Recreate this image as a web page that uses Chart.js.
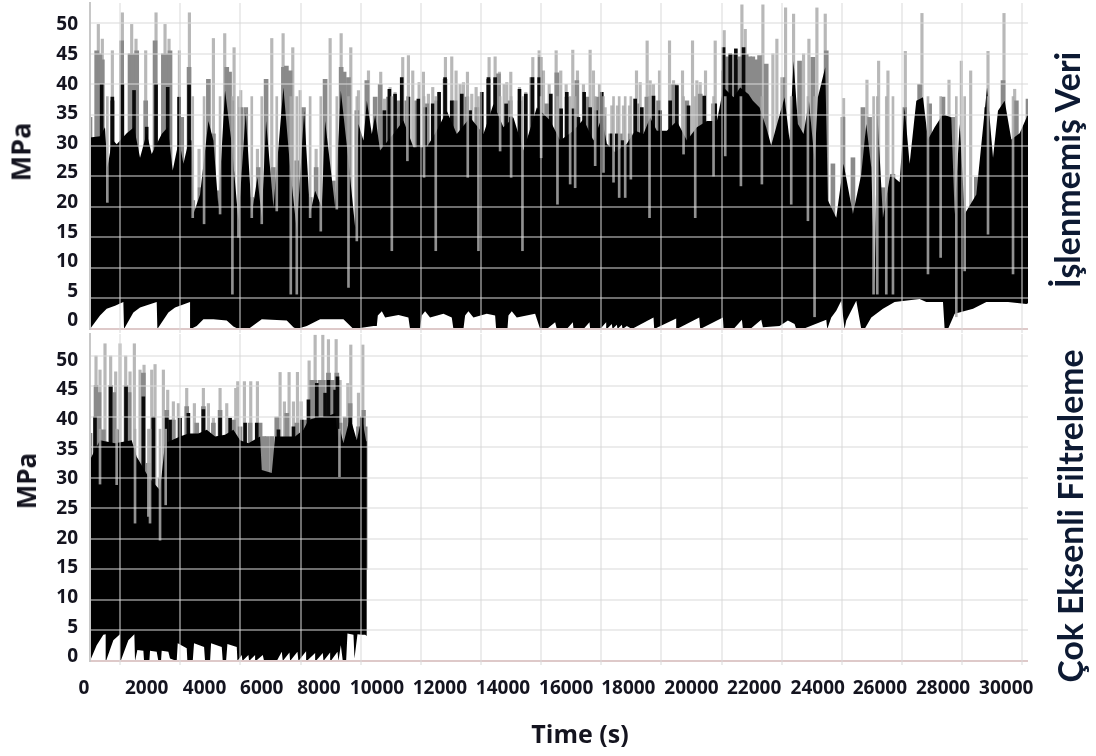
<!DOCTYPE html>
<html lang="tr"><head><meta charset="utf-8">
<script src="https://cdn.jsdelivr.net/npm/chart.js@4"></script>
<style>
html,body{margin:0;padding:0;background:#fff;width:1096px;height:756px;overflow:hidden}
canvas{position:absolute;left:0;filter:blur(.55px)}
.t{position:absolute;white-space:nowrap;font-family:"Open Sans",sans-serif;font-weight:700;color:#14141f;line-height:1}
.r{transform:translate(-50%,-50%) rotate(-90deg)}
.c{transform:translate(-50%,-50%)}
</style></head><body>
<canvas id="upper" style="top:0"></canvas>
<canvas id="lower" style="top:330px"></canvas>
<div class="t r" style="left:20px;top:152px;font-size:27px">MPa</div>
<div class="t r" style="left:26px;top:481px;font-size:26px">MPa</div>
<div class="t c" style="left:580px;top:733px;font-size:25px">Time (s)</div>
<div class="t r" style="left:1067px;top:170px;font-size:34px;font-family:Lato,sans-serif;color:#0d1a33">İşlenmemiş Veri</div>
<div class="t r" style="left:1071px;top:516px;font-size:33.7px;font-family:Lato,sans-serif;color:#0d1a33">Çok Eksenli Filtreleme</div>
<script>
const xTickLabels=[0,2000,4000,6000,8000,10000,12000,14000,16000,18000,20000,22000,24000,26000,28000,30000];
const yTickLabels=[0,5,10,15,20,25,30,35,40,45,50];

// Upper panel: raw data (İşlenmemiş Veri)
const upperSolidT=[0,333,499,577,743,887,1220,1464,1664,1885,2052,2384,2584,2750,2961,3105,3294,3382,3438,3660,3937,4103,4270,4491,4713,4935,5179,5379,5567,5711,5855,6099,6431,6654,6876,7120,7320,7486,7707,7818,8151,8340,8595,8817,8927,9094,9205,9371,9482,9645,10089,10421,10754,11198,11530,11863,12196,12639,13083,13416,13748,14081,14414,14857,15301,15634,16076,16408,16741,17018,17185,17462,17850,18127,18404,18626,18848,19181,19514,19846,20179,20512,20845,21066,21399,21620,21899,22042,22264,22485,22652,22874,23095,23262,23395,23539,23727,23905,24093,24204,24448,24537,24814,25058,25369,25646,25812,25979,26090,26178,26367,26611,26922,27088,27254,27476,27698,27864,28086,28363,28640,28751,28918,29084,29472,29828,30027,30192,30414,30636,30913,31190];
const upperSolidV=[31.3,31.5,33,26.4,31,30.2,32,33,28,32,28.6,31.9,33,25.9,31,27,31,30.8,18.8,22,34,30.8,19.9,39,30.2,17.7,35.4,18.8,24.8,18.2,34,19.9,39.5,26.4,16,35.7,18.8,22.6,19.9,34,19.9,39,27.5,16.6,33.5,30.8,37.3,31.9,35,29.2,31.9,34.1,29.7,29.7,32.4,35.7,31.9,34.6,31.9,36.8,33,34.6,29.2,36.2,34.1,30.8,32.4,34.3,30.8,34.6,30.3,28.9,30.3,32.4,31.9,34.6,32.4,32.4,34,30.8,33,34,34,39.5,37.9,39.5,38.4,37.3,36.2,33,30,34,37.9,30.8,43.8,33.5,31.9,37.3,27.5,37.9,42.8,21,18.2,27,18.8,25.3,33.5,26.4,7.4,35.7,18.2,25.3,24,36.2,27,37.3,37.9,31,33,35.1,34.6,18.8,33.5,18.8,22,39.5,28,35.7,37.3,31,32,35.1];
const upperDarkT=[388,743,1076,1464,1885,2196,2584,2961,3294,9789,9955,10144,10366,10588,10920,11142,11397,11608,11807,12029,12362,12639,13027,13249,13471,13837,13992,14281,14491,14713,14935,15323,15665,15854,16076,16242,16430,16630,16830,17018,17351,17517,17706,18127,18349,18737,18959,19292,19514,19902,20423,20789,21066,21288,21476,21732];
const upperDarkV=[40,37.9,40,39,33,40,39.5,37.9,40,35.7,39.2,38.4,41.1,37.9,37.6,36.2,36.8,38.7,41.1,37.3,38.4,35.7,38.7,41.1,41.1,36.8,34.6,39.2,38.4,41.1,41.1,38.4,36,38.7,36,34.6,38.7,36.2,35.7,38.7,31.9,31.9,30.8,37.6,36.2,38.1,35.7,37.3,39.8,36.5,38.1,36.8,46,45,45.8,46];
const upperHazeT=[0,222,330,410,743,1053,1331,1430,1553,1852,2163,2440,2540,2661,3050,3294,3416,3660,3937,4103,4270,4547,4640,4713,5013,5179,5379,5600,5855,6099,6432,6530,6654,6876,7098,7320,7519,7818,8096,8351,8450,8595,8872,9205,9482,9648,9925,10258,10532,10865,11197,11530,11807,12140,12528,12861,13249,13581,13970,14302,14690,14968,15190,15522,15855,16188,16520,16853,17075,17319,17630,17962,18184,18516,18905,19404,19847,20291,20734,21067,21170,21280,21400,21510,21620,21820,21930,22040,22150,22264,22485,23040,23594,24038,24482,24703,25036,25369,25701,25923,26367,26700,27088,27587,27919,28363,28696,29028,29472,29805,30359,30803,31190];
const upperHazeV=[34.6,45.5,45,44,37.3,47.1,45,45,45.5,37.3,47.1,45,45,45.5,34.6,42.8,21,23.1,40.8,31.9,22.6,42.8,42,37.3,36.2,36.2,21.5,26.4,40.8,26.4,42.8,43,42.2,27.5,36.2,21.5,26.4,40.8,24.2,42.8,42,41.1,35.7,40.6,37.9,40,37.9,37.3,37.3,37.3,36.8,37.3,40.8,37.3,37.9,36.2,40.8,41.7,37.3,37.3,41.1,44.4,36.8,41.9,37.9,40.6,37.9,37.9,35.1,31.9,31.9,31.9,36.8,37.9,37.3,40,37.3,38.4,36.8,42.2,44.5,44,44.9,44,44.5,44.9,44.5,44.5,44,44.7,43.3,41.1,43.8,44.4,45.5,27,34.6,28,36.2,34.6,23.1,25.3,36.2,40,36.8,37.9,34.6,19.9,24.8,36.2,40.6,37.3,37.6];
const upperFloorT=[0,333,555,832,1109,1131,1442,1664,2218,2240,2606,2828,3327,3349,3549,3771,4103,4547,4769,4935,5268,5711,6543,6765,6876,7209,7652,8428,8761,9426,9537,9570,9704,9814,10258,10587,10643,10975,11031,11142,11308,11752,12029,12084,12417,12473,12583,12750,13193,13471,13504,13881,13914,14025,14191,14801,14968,15190,15467,15522,15855,16055,16077,16410,16609,16631,16964,17164,17186,17352,17374,17518,17541,17685,17707,17851,18018,18738,18760,19492,19514,20258,20291,21045,21067,21400,21677,21710,21955,22319,22375,22929,23206,23428,23484,23705,24482,24515,24648,24814,24980,25091,25147,25480,25646,25757,25979,26367,26755,27587,27808,28363,28418,28530,28751,29362,29805,30525,31136,31190];
const upperFloorV=[0,2.2,3.3,3.8,4.4,0,2.7,3.5,4.4,0,2.7,3.5,4.4,0,.5,1.6,1.6,1.4,.4,0,0,1.6,1.4,.3,0,.5,1.6,1.6,0,.5,.5,2.2,2.9,1.9,2.3,1.9,0,0,2.2,2.9,1.9,2.5,1.9,0,0,2.2,2.9,1.9,2.5,2.2,0,0,2.2,2.9,1.9,2.5,0,0,1.1,0,0,1.1,0,0,1.1,0,0,1.1,0,.8,0,.7,0,.7,0,.5,0,1.9,0,1.7,0,1.9,0,1.9,0,0,1.5,0,0,1.5,.3,.5,1.4,.8,0,0,1.5,0,1.9,3,4.6,0,1.4,4.6,0,0,1.9,3.3,4.4,4.9,4.4,4.4,0,0,2.5,3.3,4.4,4.4,4.1,4.2];
const upperSpikeT=[277,410,743,1076,1386,1530,1852,2196,2495,2628,2972,3305,3626,3937,4103,4480,4791,5013,5567,5855,6044,6421,6743,6987,7519,7796,7985,8351,8672,8927,9260,9667,9789,9978,10144,10399,10588,10732,10943,11087,11253,11397,11608,11819,12029,12173,12307,12418,12551,12695,12839,13027,13271,13471,13615,13770,13859,13992,14281,14491,14724,14935,15079,15268,15500,15654,15832,16053,16209,16408,16630,16741,16941,17129,17351,17539,17739,17939,18172,18294,18526,18626,18736,18937,19270,19403,19514,19702,20035,20179,20290,20467,20789,21088,21677,21788,22375,22707,22840,23129,23395,23727,23905,24171,24448,25058,25835,26223,26533,27110,27664,28563,28973,29284,29860,30392,30747];
const upperSpikeV=[49.8,47.4,45.5,51.7,49.8,47.4,45.5,51.7,49.8,47.4,45.5,51.7,29.4,40.8,47.5,48.3,46,39,29.4,40.8,47.5,48.3,46,39,29.4,40.8,47.5,48.3,46,39,42.2,42,37.6,39.5,38.7,44.4,44.7,42.2,40.3,42,38.4,39.5,38.7,44.4,44.5,42.2,40,40.3,42,38.4,39.5,38.7,44.4,44.5,42,40,40.3,42,39.5,38.7,44.4,45.5,42.2,40,45.5,42.2,40,45.6,42.2,40,45.6,42.2,40,36.2,36.5,36.5,36.5,36.5,42.2,40.3,47.1,40.6,40,42.2,47.1,40.6,40,42.2,47.1,40.6,40.3,42.2,47.1,48.8,53,49,53,45,47.4,52.5,51.5,45,47.4,52.5,51.5,37.7,40.7,43.8,42.2,45.4,51.6,40.7,43.8,42.2,45.4,51.6,39.2];
const upperDipT=[577,3416,3793,4325,4735,4935,5379,5711,6210,6676,6876,7320,7674,8207,8595,8872,10036,10554,11108,11497,12561,12916,13637,14003,14380,15001,15544,15966,16132,16798,17075,17408,17596,17796,17984,18605,19737,20125,20734,21123,21644,22341,23317,23872,24093,26056,26178,26478,26700,27864,28285,28806,29084,29860,30692];
const upperDipV=[20.7,18.2,17.2,18.8,5.7,15,18.2,17.2,19.3,5.7,5.7,18.2,16,19.6,6.8,14.4,12.8,27.5,24.8,12.8,24.8,12.8,29.1,24.8,12.8,28,20.4,23.7,23.1,26.7,25.6,24,21.5,21.5,24.5,18.2,28.6,18.2,25,28.3,23.4,23.7,20.4,17.7,2,5.7,5.7,5.7,5.7,9,11.7,2,9.5,15.5,9];

// Lower panel: filtered data (Çok Eksenli Filtreleme)
const lowerSolidT=[0,333,499,832,1386,1553,1941,2329,2495,2717,2994,3271,3604,3881,4159,4491,4768,4990,5267,5656,5711,6044,6155,6487,6820,7097,7264,7596,7818,8151,8262,8317,8428,8650,8872,9039,9183,9205];
const lowerSolidV=[33,36.2,36,35.7,36.2,33.5,30.2,28,35.7,36.2,36.8,37.3,37.3,37.9,36.8,37.1,37.9,36.2,35.7,36.8,31.3,30.8,36.8,36.8,36.8,37.9,39.5,40,40,40.6,35.7,37.9,35.7,40,36.2,40,36,37];
const lowerDarkT=[166,687,1198,1775,2107,2551,2661,2994,3271,3770,4325,4658,5157,5545,6266,6765,7042,7264,7541,7818,7929,8151,8229,8650,9039];
const lowerDarkV=[40,45,45,43.3,40,40,39.5,39.8,40.6,41.2,40,39.8,39,39,37.9,38.4,39.5,42.8,45.5,43.9,46,44.4,46.6,40,40];
const lowerHazeT=[0,200,300,444,687,790,887,1198,1300,1442,1775,1941,2107,2329,2551,2772,3216,3549,3771,4103,4325,4769,4991,5323,5656,5767,5890,6044,6210,6543,6876,7153,7375,7480,7652,7760,7929,8060,8207,8317,8484,8650,8927,9094,9150];
const lowerHazeV=[37.3,45.2,44,37.9,45.2,44,37.9,45.2,44,34.6,47.2,32.4,40,30,41.1,39.5,41.7,39,41.7,39,41.1,39.5,38.4,39,39,36.8,36.8,36.8,40,40.6,39,39.5,46,46,46,46,47.2,46,47.2,39,40,42.2,38.4,41.1,38.4];
const lowerFloorT=[0,222,444,521,532,776,998,1020,1275,1475,1497,1575,1775,1797,1974,1996,2218,2273,2362,2384,2606,2661,2883,2917,3216,3238,3416,3460,3793,3826,3993,4026,4381,4414,4525,4569,4880,4902,5046,5068,5268,5290,5490,5512,5745,5789,6210,6377,6410,6632,6654,6898,6931,7186,7209,7486,7508,7741,7763,7985,8007,8229,8262,8340,8406,8517,8561,8761,8794,8894,9039,9150,9205];
const lowerFloorV=[0,2.6,4.3,4.4,0,3.4,4.4,0,3.4,4.4,0,1.8,1.7,0,0,1.7,1.5,0,0,1.7,1.5,.4,0,2.9,2.1,0,0,2.9,2.3,0,0,2.9,2.3,0,0,2.8,2.3,0,1,0,1,0,1,0,1,0,0,1.5,0,1.4,0,1.5,0,1.6,0,1.3,0,1.3,0,1.4,0,1.5,0,2.6,0,0,4.5,4.3,.4,4.4,4.3,4.3,4.1];
const lowerSpikeT=[200,333,499,687,854,998,1187,1331,1475,1664,1797,2052,2163,2440,2584,2772,2939,3216,3471,3770,3937,4103,4325,4547,4846,4913,5134,5345,5567,5800,6022,6321,6465,6620,6765,6898,7020,7286,7486,7741,7929,8185,8317,8572,8672,8927,9072];
const lowerSpikeV=[50,47.7,52,50,47.4,52,50,47.4,52,47.7,48.5,47.7,48.6,47.7,44.4,42.5,42.2,44.7,42.2,44.7,42.2,39.8,44.7,42.2,44.7,45.8,45.8,45.8,45.8,36.7,36.7,47.3,42.5,47.3,42.5,47.3,42.5,49.2,53.4,53.4,52.7,52.7,46,45.5,51.8,43.9,51.8];
const lowerDipT=[333,887,1497,1941,1996,2329,2517,8295];
const lowerDipV=[29,28.9,22.6,23.7,22.6,19.8,25.6,30.2];

const zeroT=[0,31190], zeroV=[0,0];
const spikeFloor=15, dipCeiling=38;

const xy=(ts,vs)=>ts.map((t,i)=>({x:t,y:vs[i]}));
const bars=(ts,vs,a)=>ts.map((t,i)=>({x:t,y:[a,vs[i]]}));
const X_MAX=31190, TICK={family:'"Open Sans",sans-serif',size:19,weight:'700'};
const GRID='rgba(218,218,218,.5)';

function datasets(p){
 const line=(d,o,extra)=>Object.assign({type:'line',data:d,order:o,borderWidth:0,pointRadius:0,tension:0},extra||{});
 const bar=(label,d,o,c,w)=>({label,type:'bar',data:d,order:o,backgroundColor:c,barThickness:w,grouped:false,borderWidth:0});
 return [
  line(xy(p.solidT,p.solidV),3,{label:'solid',backgroundColor:'#000',fill:{target:1}}),
  line(xy(p.floorT,p.floorV),3,{label:'floor'}),
  bar('dark',bars(p.darkT,p.darkV,spikeFloor),4,'#0a0a0a',3),
  bar('haze',bars(p.hazeT,p.hazeV,spikeFloor),5,'#8a8a8a',4),
  bar('spikes',bars(p.spikeT,p.spikeV,spikeFloor),6,'#b8b8b8',2.5),
  bar('dips',bars(p.dipT,p.dipV,dipCeiling),2,'rgba(170,170,170,.85)',2),
  line(xy(zeroT,zeroV),1,{label:'zero',borderColor:'#e2b9b9',borderWidth:2,clip:5})
 ];
}
const noPad=s=>{s.paddingTop=0;s.paddingBottom=0;s.paddingLeft=0;s.paddingRight=0};
function build(id,h,p,o){
 const el=document.getElementById(id);
 el.width=1096; el.height=h; el.style.width='1096px'; el.style.height=h+'px';
 new Chart(el,{type:'line',data:{datasets:datasets(p)},options:{
  responsive:false,animation:false,events:[],
  layout:{padding:{top:o.top,right:68,left:0,bottom:0}},
  plugins:{legend:{display:false},tooltip:{enabled:false}},
  scales:{
   x:{type:'linear',min:0,max:X_MAX,offset:false,position:'bottom',
      border:{display:false},
      grid:{color:GRID,lineWidth:2,z:1,drawTicks:true,tickLength:4},
      ticks:{display:false,stepSize:2000},
      afterBuildTicks:s=>{s.ticks=xTickLabels.map(v=>({value:v}))},
      afterFit:s=>{s.height=4;noPad(s)}},
   xLabels:{type:'linear',min:0,max:X_MAX,position:'bottom',display:o.labels,
      grid:{display:false},border:{display:false},
      ticks:{autoSkip:false,maxRotation:0,minRotation:0,padding:4,color:'#14141f',font:TICK,
             callback:(v,i)=>String(xTickLabels[i])},
      afterBuildTicks:s=>{s.ticks=xTickLabels.map((v,i)=>({value:v+o.nudge[i]*33.26}))},
      afterFit:s=>{s.height=o.xh;noPad(s)}},
   y:{type:'linear',min:0,max:o.ymax,position:'left',
      border:{color:'#c8c8c8',width:2,z:1},
      grid:{color:GRID,lineWidth:2,z:1,drawTicks:false},
      ticks:{display:false,stepSize:5},
      afterBuildTicks:s=>{s.ticks=yTickLabels.map(v=>({value:v}))},
      afterFit:s=>{s.width=0;noPad(s)}},
   yLabels:{type:'linear',min:o.lmin,max:o.lmax,position:'left',
      grid:{display:false},border:{display:false},
      ticks:{padding:4,color:'#14141f',font:TICK},
      afterBuildTicks:s=>{s.ticks=yTickLabels.map(v=>({value:v}))},
      afterFit:s=>{s.width=90;noPad(s)}}
  }}});
}
const xNudge=[-6,-3.5,-5.7,-8.7,-11.6,-13.7,-11,-8,-5,-3,0,2.5,6,8,11,14];
build('upper',333,{solidT:upperSolidT,solidV:upperSolidV,darkT:upperDarkT,darkV:upperDarkV,hazeT:upperHazeT,hazeV:upperHazeV,floorT:upperFloorT,floorV:upperFloorV,spikeT:upperSpikeT,spikeV:upperSpikeV,dipT:upperDipT,dipV:upperDipV},
 {top:3,ymax:53.3,lmin:-1.35,lmax:53.7,labels:false,xh:0,nudge:xNudge});
build('lower',426,{solidT:lowerSolidT,solidV:lowerSolidV,darkT:lowerDarkT,darkV:lowerDarkV,hazeT:lowerHazeT,hazeV:lowerHazeV,floorT:lowerFloorT,floorV:lowerFloorV,spikeT:lowerSpikeT,spikeV:lowerSpikeV,dipT:lowerDipT,dipV:lowerDipV},
 {top:4,ymax:53.6,lmin:-.67,lmax:54.4,labels:true,xh:91,nudge:xNudge});
</script>
</body></html>
